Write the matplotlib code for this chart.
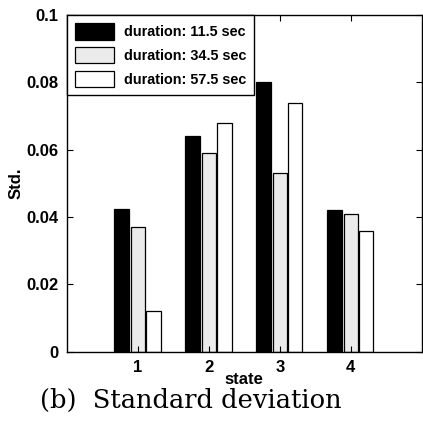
import numpy as np
import matplotlib
matplotlib.use("Agg")
import matplotlib.pyplot as plt

# std of each state for three window durations
states = [1, 2, 3, 4]
std_11_5 = [0.0425, 0.064, 0.080, 0.042]
std_34_5 = [0.037, 0.059, 0.053, 0.041]
std_57_5 = [0.012, 0.068, 0.074, 0.036]
labels = ["duration: 11.5 sec", "duration: 34.5 sec", "duration: 57.5 sec"]
colors = ["black", "#ebebeb", "white"]

plt.rcParams["font.family"] = "Liberation Sans"

fig = plt.figure(figsize=(4.23, 4.26), dpi=100)
ax = fig.add_axes([0.158, 0.174, 0.839, 0.791])

x = np.array(states)
w = 0.2
offsets = [-0.23, 0.0, 0.22]
for vals, off, c, lab in zip([std_11_5, std_34_5, std_57_5], offsets, colors, labels):
    ax.bar(x + off, vals, width=w, color=c, edgecolor="black", linewidth=0.9, label=lab)

ax.set_xlim(0, 5)
ax.set_ylim(0, 0.1)
ax.set_xticks(states)
ax.set_yticks([0, 0.02, 0.04, 0.06, 0.08, 0.1])
ax.set_yticklabels(["0", "0.02", "0.04", "0.06", "0.08", "0.1"])
ax.tick_params(direction="in", top=True, right=True, length=4, width=0.8,
               labelsize=12, pad=6)
for t in ax.get_xticklabels() + ax.get_yticklabels():
    t.set_fontweight("bold")
for s in ax.spines.values():
    s.set_linewidth(1.0)

ax.set_xlabel("state", fontsize=12, fontweight="bold", labelpad=-2)
ax.set_ylabel("Std.", fontsize=12, fontweight="bold", labelpad=2)

leg = ax.legend(loc="upper left", borderaxespad=0, fancybox=False,
                edgecolor="black", framealpha=1, handlelength=2.7,
                handleheight=1.4, labelspacing=0.5, borderpad=0.55,
                handletextpad=0.7,
                prop={"weight": "bold", "size": 10.4})
leg.get_frame().set_linewidth(1.0)

fig.text(0.45, 0.06, "(b)  Standard deviation", ha="center", va="center",
         family="DejaVu Serif", fontsize=18.5)

fig.savefig("out.png", dpi=100)
